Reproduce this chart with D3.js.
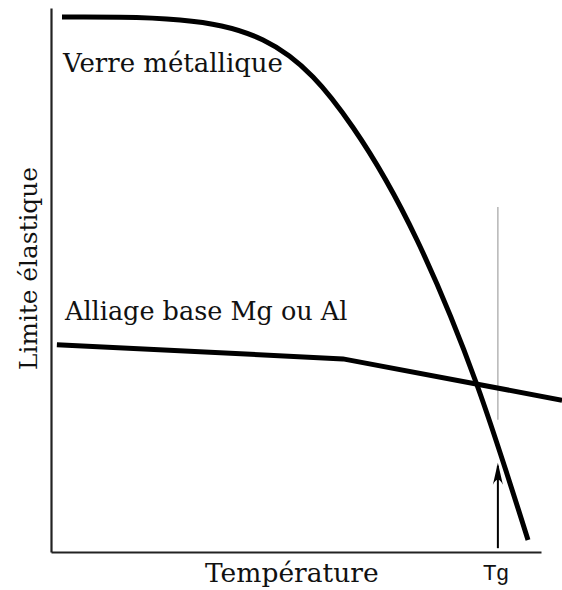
<!DOCTYPE html>
<html>
<head>
<meta charset="utf-8">
<script src="https://cdn.jsdelivr.net/npm/d3@7"></script>
<style>
  html, body { margin: 0; padding: 0; background: #fff; }
  svg { display: block; }
  .lbl { font-family: "DejaVu Serif", serif; fill: #111; }
</style>
</head>
<body>
<svg id="chart" width="562" height="590"></svg>
<script>
// Yield strength vs temperature, schematic (arbitrary units 0–100)
const verreTemp  = [2.24, 14.08, 26.33, 43.27, 53.47, 61.63, 74.69, 86.94, 97.35];
const verreLimit = [98.35, 98.29, 97.79, 94.12, 87.32, 78.03, 57.35, 30.70, 2.21];

const alliageTemp  = [1.2, 59.6, 104.3];
const alliageLimit = [38.1, 35.5, 27.9];

// Glass transition temperature marker
const tgTemp = 91.2;
const tgGuide = [24.3, 63.4];
const tgArrow = [0.7, 16.4];

const seriesLabels = ["Verre métallique", "Alliage base Mg ou Al"];
const xTitle = "Température";
const yTitle = "Limite élastique";
const tgLabel = "Tg";

const svg = d3.select("#chart");
const x = d3.scaleLinear().domain([0, 100]).range([51, 541]);
const y = d3.scaleLinear().domain([0, 100]).range([552, 8]);

// Axes: plain lines, no ticks
svg.append("g")
  .attr("transform", `translate(${x(0)},0)`)
  .call(d3.axisLeft(y).tickValues([]).tickSizeOuter(0))
  .call(g => g.select(".domain").attr("stroke", "#222").attr("stroke-width", 2.2));
svg.append("g")
  .attr("transform", `translate(0,${y(0)})`)
  .call(d3.axisBottom(x).tickValues([]).tickSizeOuter(0))
  .call(g => g.select(".domain").attr("stroke", "#222").attr("stroke-width", 2.2));

// Tg guide line
svg.append("line")
  .attr("x1", x(tgTemp)).attr("x2", x(tgTemp))
  .attr("y1", y(tgGuide[0])).attr("y2", y(tgGuide[1]))
  .attr("stroke", "#aaa").attr("stroke-width", 1.3);

svg.append("path")
  .datum(d3.zip(alliageTemp, alliageLimit))
  .attr("d", d3.line().x(d => x(d[0])).y(d => y(d[1])))
  .attr("fill", "none").attr("stroke", "#000").attr("stroke-width", 5);

svg.append("path")
  .datum(d3.zip(verreTemp, verreLimit))
  .attr("d", d3.line().x(d => x(d[0])).y(d => y(d[1])).curve(d3.curveMonotoneX))
  .attr("fill", "none").attr("stroke", "#000").attr("stroke-width", 5);

// Tg arrow
const ax = x(tgTemp), aTip = y(tgArrow[1]), aBase = y(tgArrow[0]);
svg.append("line")
  .attr("x1", ax).attr("x2", ax).attr("y1", aBase).attr("y2", aTip + 3)
  .attr("stroke", "#000").attr("stroke-width", 2);
svg.append("path")
  .attr("d", `M${ax},${aTip} L${ax - 5},${aTip + 22} Q${ax},${aTip + 12} ${ax + 5},${aTip + 22} Z`)
  .attr("fill", "#000");

// Labels
svg.append("text").attr("class", "lbl")
  .attr("x", 63).attr("y", 72).attr("font-size", 26)
  .text(seriesLabels[0]);
svg.append("text").attr("class", "lbl")
  .attr("x", 65).attr("y", 320).attr("font-size", 25.5)
  .text(seriesLabels[1]);
svg.append("text").attr("class", "lbl")
  .attr("x", 205).attr("y", 582).attr("font-size", 26.5)
  .text(xTitle);
svg.append("text").attr("class", "lbl")
  .attr("transform", "translate(37,370) rotate(-90)")
  .attr("font-size", 24.8)
  .text(yTitle);
svg.append("text")
  .attr("x", x(tgTemp) - 2).attr("y", 580)
  .attr("text-anchor", "middle")
  .attr("font-family", "Liberation Sans, Arial, sans-serif")
  .attr("font-size", 22).attr("fill", "#111")
  .text(tgLabel);
</script>
</body>
</html>
